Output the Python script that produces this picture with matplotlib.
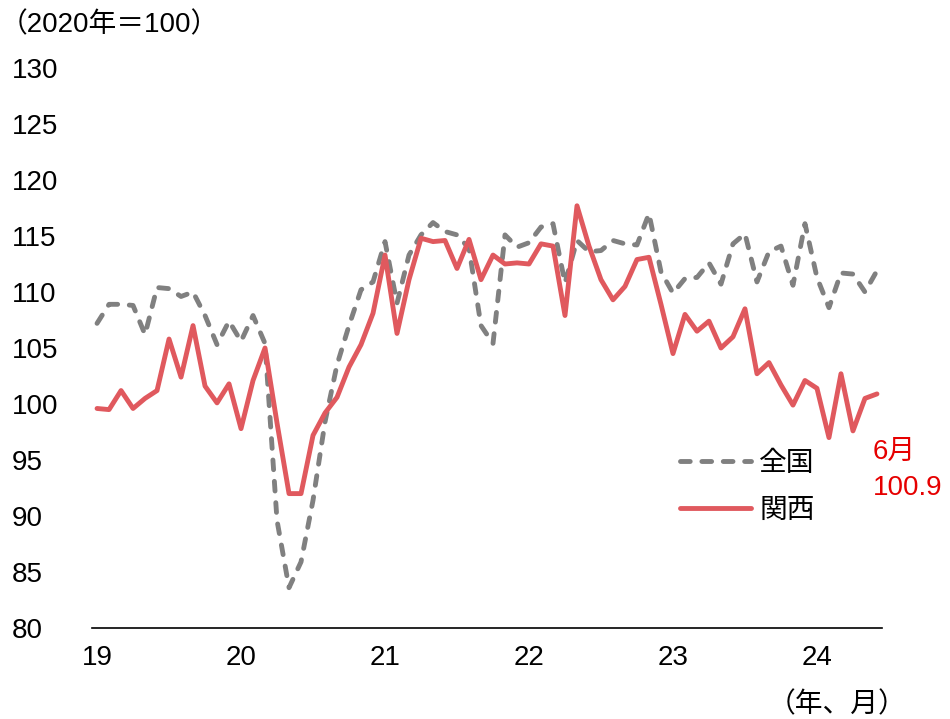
import numpy as np
import matplotlib.pyplot as plt

plt.rcParams['font.family'] = ['Liberation Sans', 'Noto Sans CJK JP', 'DejaVu Sans']

# 2019年1月～2024年6月 (月次)
months = np.arange(66)
year_ticks = [0, 12, 24, 36, 48, 60]
year_labels = ['19', '20', '21', '22', '23', '24']

zenkoku = [
    107.2, 108.9, 108.9, 108.8, 106.2, 110.4, 110.3, 109.6, 110.0, 107.9, 105.3, 107.4,
    105.6, 107.9, 105.4, 89.6, 83.6, 85.9, 91.4, 98.4, 103.5, 107.0, 110.2, 110.9,
    114.5, 109.0, 113.3, 115.1, 116.2, 115.4, 115.1, 113.9, 107.0, 105.4, 115.1, 114.0,
    114.4, 115.8, 116.1, 110.8, 114.6, 113.6, 113.7, 114.6, 114.3, 114.2, 117.0, 111.8,
    109.9, 111.2, 111.3, 112.6, 110.7, 114.3, 115.2, 110.9, 113.6, 114.1, 110.6, 116.1,
    111.3, 108.6, 111.7, 111.6, 110.0, 111.9,
]
kansai = [
    99.6, 99.5, 101.2, 99.6, 100.5, 101.2, 105.8, 102.4, 107.0, 101.6, 100.1, 101.8,
    97.8, 102.1, 105.0, 98.3, 92.0, 92.0, 97.2, 99.2, 100.6, 103.3, 105.3, 108.1,
    113.3, 106.3, 111.1, 114.8, 114.5, 114.6, 112.1, 114.7, 111.1, 113.3, 112.5, 112.6,
    112.5, 114.3, 114.1, 107.9, 117.7, 114.1, 111.1, 109.3, 110.5, 112.9, 113.1, 108.9,
    104.5, 108.0, 106.5, 107.4, 105.0, 106.0, 108.5, 102.7, 103.7, 101.7, 99.9, 102.1,
    101.4, 97.0, 102.7, 97.6, 100.5, 100.9,
]

red = '#E0595E'
gray = '#808080'
fs = 20

fig = plt.figure(figsize=(9.5, 7.19), dpi=100)
ax = fig.add_axes([92 / 950, 1 - 628 / 719, 790 / 950, 560 / 719])

ax.plot(months, zenkoku, color=gray, lw=3.5, linestyle=(0, (2.0, 2.4)),
        dash_capstyle='round', label='全国')
ax.plot(months, kansai, color=red, lw=3.5, solid_capstyle='round', label='関西')

ax.set_xlim(-0.42, 65.42)
ax.set_ylim(80, 130)
ax.set_yticks(np.arange(80, 131, 5))
ax.set_xticks(year_ticks)
ax.set_xticklabels(year_labels)

for side in ['top', 'right', 'left']:
    ax.spines[side].set_visible(False)
ax.spines['bottom'].set_linewidth(1.2)
ax.tick_params(axis='both', length=0, labelsize=fs)
ax.tick_params(axis='x', pad=12)
ax.tick_params(axis='y', pad=57.6)
for lbl in ax.get_yticklabels():
    lbl.set_horizontalalignment('left')

leg = ax.legend(loc='upper left', bbox_to_anchor=(588 / 790, 1 - (451 - 68) / 560),
                frameon=False, fontsize=fs, handlelength=2.55, handletextpad=0.3,
                labelspacing=0.75, borderaxespad=0, borderpad=0)

fig.text(0, 1 - 25 / 719, '（2020年＝100）', fontsize=fs, va='center', ha='left')
fig.text(873 / 950, 1 - 452 / 719, '6月', fontsize=fs, color='#E60000', va='center', ha='left')
fig.text(873 / 950, 1 - 488 / 719, f'{kansai[-1]:.1f}', fontsize=fs, color='#E60000',
         va='center', ha='left')
fig.text(906 / 950, 1 - 705 / 719, '（年、月）', fontsize=fs, va='center', ha='right')

fig.savefig('out.png', dpi=100)
